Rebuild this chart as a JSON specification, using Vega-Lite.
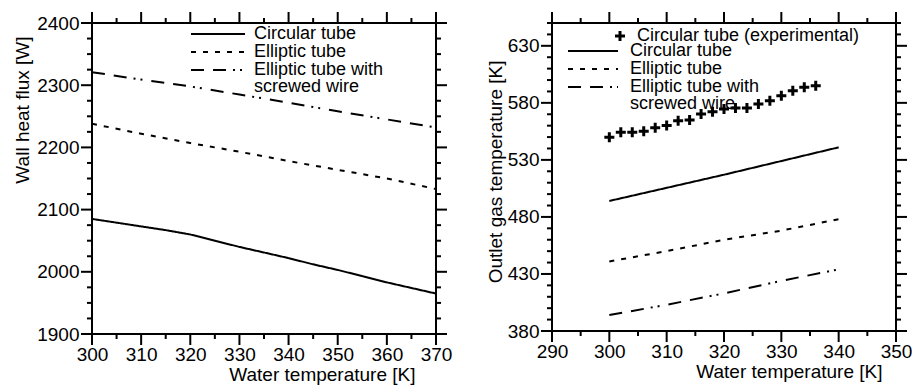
{
  "$schema": "https://vega.github.io/schema/vega-lite/v6.json",
  "padding": {"left": 12, "top": 11, "right": 0, "bottom": 0},
  "background": "white",
  "spacing": 32,
  "datasets": {
    "heat": [
      {"T": 300, "q": 2085, "series": "Circular tube"},
      {"T": 305, "q": 2079, "series": "Circular tube"},
      {"T": 310, "q": 2073, "series": "Circular tube"},
      {"T": 315, "q": 2067, "series": "Circular tube"},
      {"T": 320, "q": 2060, "series": "Circular tube"},
      {"T": 325, "q": 2050, "series": "Circular tube"},
      {"T": 330, "q": 2040, "series": "Circular tube"},
      {"T": 335, "q": 2031, "series": "Circular tube"},
      {"T": 340, "q": 2022, "series": "Circular tube"},
      {"T": 345, "q": 2012, "series": "Circular tube"},
      {"T": 350, "q": 2003, "series": "Circular tube"},
      {"T": 355, "q": 1993, "series": "Circular tube"},
      {"T": 360, "q": 1983, "series": "Circular tube"},
      {"T": 365, "q": 1974, "series": "Circular tube"},
      {"T": 370, "q": 1965, "series": "Circular tube"},
      {"T": 300, "q": 2238, "series": "Elliptic tube"},
      {"T": 310, "q": 2222, "series": "Elliptic tube"},
      {"T": 320, "q": 2207, "series": "Elliptic tube"},
      {"T": 330, "q": 2193, "series": "Elliptic tube"},
      {"T": 340, "q": 2178, "series": "Elliptic tube"},
      {"T": 350, "q": 2164, "series": "Elliptic tube"},
      {"T": 360, "q": 2150, "series": "Elliptic tube"},
      {"T": 370, "q": 2133, "series": "Elliptic tube"},
      {"T": 300, "q": 2321, "series": "Elliptic tube with screwed wire"},
      {"T": 310, "q": 2309, "series": "Elliptic tube with screwed wire"},
      {"T": 320, "q": 2298, "series": "Elliptic tube with screwed wire"},
      {"T": 330, "q": 2285, "series": "Elliptic tube with screwed wire"},
      {"T": 340, "q": 2272, "series": "Elliptic tube with screwed wire"},
      {"T": 350, "q": 2258, "series": "Elliptic tube with screwed wire"},
      {"T": 360, "q": 2245, "series": "Elliptic tube with screwed wire"},
      {"T": 370, "q": 2232, "series": "Elliptic tube with screwed wire"}
    ],
    "gas": [
      {"T": 300, "Tg": 494, "series": "Circular tube"},
      {"T": 310, "Tg": 505.5, "series": "Circular tube"},
      {"T": 320, "Tg": 517, "series": "Circular tube"},
      {"T": 330, "Tg": 529, "series": "Circular tube"},
      {"T": 340, "Tg": 541, "series": "Circular tube"},
      {"T": 300, "Tg": 441, "series": "Elliptic tube"},
      {"T": 310, "Tg": 450, "series": "Elliptic tube"},
      {"T": 320, "Tg": 460, "series": "Elliptic tube"},
      {"T": 330, "Tg": 468, "series": "Elliptic tube"},
      {"T": 340, "Tg": 478, "series": "Elliptic tube"},
      {"T": 300, "Tg": 394, "series": "Elliptic tube with screwed wire"},
      {"T": 310, "Tg": 403, "series": "Elliptic tube with screwed wire"},
      {"T": 320, "Tg": 413, "series": "Elliptic tube with screwed wire"},
      {"T": 330, "Tg": 424, "series": "Elliptic tube with screwed wire"},
      {"T": 340, "Tg": 434, "series": "Elliptic tube with screwed wire"}
    ],
    "exp": [
      {"T": 300, "Tg": 549.8, "series": "Circular tube (experimental)"},
      {"T": 302, "Tg": 554.2, "series": "Circular tube (experimental)"},
      {"T": 304, "Tg": 554.2, "series": "Circular tube (experimental)"},
      {"T": 306, "Tg": 555.1, "series": "Circular tube (experimental)"},
      {"T": 308, "Tg": 558.1, "series": "Circular tube (experimental)"},
      {"T": 310, "Tg": 560.1, "series": "Circular tube (experimental)"},
      {"T": 312, "Tg": 564.4, "series": "Circular tube (experimental)"},
      {"T": 314, "Tg": 565.0, "series": "Circular tube (experimental)"},
      {"T": 316, "Tg": 570.3, "series": "Circular tube (experimental)"},
      {"T": 318, "Tg": 572.3, "series": "Circular tube (experimental)"},
      {"T": 320, "Tg": 574.7, "series": "Circular tube (experimental)"},
      {"T": 322, "Tg": 575.5, "series": "Circular tube (experimental)"},
      {"T": 324, "Tg": 575.5, "series": "Circular tube (experimental)"},
      {"T": 326, "Tg": 579.0, "series": "Circular tube (experimental)"},
      {"T": 328, "Tg": 581.9, "series": "Circular tube (experimental)"},
      {"T": 330, "Tg": 586.3, "series": "Circular tube (experimental)"},
      {"T": 332, "Tg": 590.7, "series": "Circular tube (experimental)"},
      {"T": 334, "Tg": 593.6, "series": "Circular tube (experimental)"},
      {"T": 336, "Tg": 595.0, "series": "Circular tube (experimental)"}
    ],
    "tx1": [
      {"v": 300, "major": true}, {"v": 305, "major": false}, {"v": 310, "major": true}, {"v": 315, "major": false},
      {"v": 320, "major": true}, {"v": 325, "major": false}, {"v": 330, "major": true}, {"v": 335, "major": false},
      {"v": 340, "major": true}, {"v": 345, "major": false}, {"v": 350, "major": true}, {"v": 355, "major": false},
      {"v": 360, "major": true}, {"v": 365, "major": false}, {"v": 370, "major": true}
    ],
    "ty1": [
      {"v": 1900, "major": true}, {"v": 1925, "major": false}, {"v": 1950, "major": false}, {"v": 1975, "major": false},
      {"v": 2000, "major": true}, {"v": 2025, "major": false}, {"v": 2050, "major": false}, {"v": 2075, "major": false},
      {"v": 2100, "major": true}, {"v": 2125, "major": false}, {"v": 2150, "major": false}, {"v": 2175, "major": false},
      {"v": 2200, "major": true}, {"v": 2225, "major": false}, {"v": 2250, "major": false}, {"v": 2275, "major": false},
      {"v": 2300, "major": true}, {"v": 2325, "major": false}, {"v": 2350, "major": false}, {"v": 2375, "major": false},
      {"v": 2400, "major": true}
    ],
    "tx2": [
      {"v": 290, "major": true}, {"v": 295, "major": false}, {"v": 300, "major": true}, {"v": 305, "major": false},
      {"v": 310, "major": true}, {"v": 315, "major": false}, {"v": 320, "major": true}, {"v": 325, "major": false},
      {"v": 330, "major": true}, {"v": 335, "major": false}, {"v": 340, "major": true}, {"v": 345, "major": false},
      {"v": 350, "major": true}
    ],
    "ty2": [
      {"v": 380, "major": true}, {"v": 390, "major": false}, {"v": 400, "major": false}, {"v": 410, "major": false}, {"v": 420, "major": false},
      {"v": 430, "major": true}, {"v": 440, "major": false}, {"v": 450, "major": false}, {"v": 460, "major": false}, {"v": 470, "major": false},
      {"v": 480, "major": true}, {"v": 490, "major": false}, {"v": 500, "major": false}, {"v": 510, "major": false}, {"v": 520, "major": false},
      {"v": 530, "major": true}, {"v": 540, "major": false}, {"v": 550, "major": false}, {"v": 560, "major": false}, {"v": 570, "major": false},
      {"v": 580, "major": true}, {"v": 590, "major": false}, {"v": 600, "major": false}, {"v": 610, "major": false}, {"v": 620, "major": false},
      {"v": 630, "major": true}, {"v": 640, "major": false}, {"v": 650, "major": false}
    ]
  },
  "hconcat": [
    {
      "width": 344,
      "height": 311,
      "layer": [
        {
          "data": {"name": "heat"},
          "mark": {"type": "line", "strokeWidth": 2, "color": "black", "strokeCap": "butt"},
          "encoding": {
            "x": {
              "field": "T", "type": "quantitative",
              "scale": {"domain": [300, 370], "nice": false, "zero": false},
              "axis": {
                "orient": "bottom",
                "values": [300, 310, 320, 330, 340, 350, 360, 370],
                "format": "d",
                "labelPadding": 11,
                "title": "Water temperature [K]",
                "titleAlign": "right",
                "titleX": 323,
                "titlePadding": 1
              }
            },
            "y": {
              "field": "q", "type": "quantitative",
              "scale": {"domain": [1900, 2400], "nice": false, "zero": false},
              "axis": {
                "orient": "left",
                "values": [1900, 2000, 2100, 2200, 2300, 2400],
                "format": "d",
                "labelPadding": 13,
                "title": "Wall heat flux [W]",
                "titleAnchor": "end",
                "titleY": 13,
                "titlePadding": 4
              }
            },
            "strokeDash": {
              "field": "series", "type": "nominal",
              "scale": {
                "domain": ["Circular tube", "Elliptic tube", "Elliptic tube with screwed wire"],
                "range": [[1, 0], [5, 7], [13, 9, 13, 7, 2, 5, 2, 9]]
              },
              "legend": {
                "orient": "none",
                "legendX": 98,
                "legendY": 3,
                "title": null,
                "symbolType": "stroke",
                "symbolSize": 2916,
                "symbolStrokeWidth": 2,
                "symbolStrokeColor": "black",
                "labelFont": "Liberation Sans",
                "labelFontSize": 18,
                "labelColor": "black",
                "labelOffset": 8,
                "labelLimit": 0,
                "clipHeight": 16,
                "rowPadding": 0,
                "padding": 0,
                "labelExpr": "datum.value === 'Elliptic tube with screwed wire' ? ['Elliptic tube with', 'screwed wire'] : datum.label",
                "encode": {"labels": {"lineHeight": {"value": 16.5}}}
              }
            }
          }
        },
        {
          "data": {"name": "tx1"},
          "transform": [{"filter": "datum.major"}],
          "mark": {"type": "tick", "orient": "vertical", "size": 11, "thickness": 2, "yOffset": 5.5, "color": "black", "opacity": 1},
          "encoding": {
            "x": {"field": "v", "type": "quantitative"},
            "y": {"datum": 1900, "type": "quantitative"}
          }
        },
        {
          "data": {"name": "tx1"},
          "transform": [{"filter": "!datum.major"}],
          "mark": {"type": "tick", "orient": "vertical", "size": 5, "thickness": 2, "yOffset": 2.5, "color": "black", "opacity": 1},
          "encoding": {
            "x": {"field": "v", "type": "quantitative"},
            "y": {"datum": 1900, "type": "quantitative"}
          }
        },
        {
          "data": {"name": "tx1"},
          "transform": [{"filter": "datum.major"}],
          "mark": {"type": "tick", "orient": "vertical", "size": 11, "thickness": 2, "yOffset": -5.5, "color": "black", "opacity": 1},
          "encoding": {
            "x": {"field": "v", "type": "quantitative"},
            "y": {"datum": 2400, "type": "quantitative"}
          }
        },
        {
          "data": {"name": "tx1"},
          "transform": [{"filter": "!datum.major"}],
          "mark": {"type": "tick", "orient": "vertical", "size": 5, "thickness": 2, "yOffset": -2.5, "color": "black", "opacity": 1},
          "encoding": {
            "x": {"field": "v", "type": "quantitative"},
            "y": {"datum": 2400, "type": "quantitative"}
          }
        },
        {
          "data": {"name": "ty1"},
          "transform": [{"filter": "datum.major"}],
          "mark": {"type": "tick", "orient": "horizontal", "size": 11, "thickness": 2, "xOffset": -5.5, "color": "black", "opacity": 1},
          "encoding": {
            "y": {"field": "v", "type": "quantitative"},
            "x": {"datum": 300, "type": "quantitative"}
          }
        },
        {
          "data": {"name": "ty1"},
          "transform": [{"filter": "!datum.major"}],
          "mark": {"type": "tick", "orient": "horizontal", "size": 5, "thickness": 2, "xOffset": -2.5, "color": "black", "opacity": 1},
          "encoding": {
            "y": {"field": "v", "type": "quantitative"},
            "x": {"datum": 300, "type": "quantitative"}
          }
        },
        {
          "data": {"name": "ty1"},
          "transform": [{"filter": "datum.major"}],
          "mark": {"type": "tick", "orient": "horizontal", "size": 11, "thickness": 2, "xOffset": 5.5, "color": "black", "opacity": 1},
          "encoding": {
            "y": {"field": "v", "type": "quantitative"},
            "x": {"datum": 370, "type": "quantitative"}
          }
        },
        {
          "data": {"name": "ty1"},
          "transform": [{"filter": "!datum.major"}],
          "mark": {"type": "tick", "orient": "horizontal", "size": 5, "thickness": 2, "xOffset": 2.5, "color": "black", "opacity": 1},
          "encoding": {
            "y": {"field": "v", "type": "quantitative"},
            "x": {"datum": 370, "type": "quantitative"}
          }
        }
      ]
    },
    {
      "width": 344,
      "height": 308,
      "layer": [
        {
          "data": {"name": "gas"},
          "mark": {"type": "line", "strokeWidth": 2, "color": "black", "strokeCap": "butt"},
          "encoding": {
            "x": {
              "field": "T", "type": "quantitative",
              "scale": {"domain": [290, 350], "nice": false, "zero": false},
              "axis": {
                "orient": "bottom",
                "values": [290, 300, 310, 320, 330, 340, 350],
                "format": "d",
                "labelPadding": 11,
                "title": "Water temperature [K]",
                "titleAlign": "right",
                "titleX": 330,
                "titlePadding": 1
              }
            },
            "y": {
              "field": "Tg", "type": "quantitative",
              "scale": {"domain": [380, 650], "nice": false, "zero": false},
              "axis": {
                "orient": "left",
                "values": [380, 430, 480, 530, 580, 630],
                "format": "d",
                "labelPadding": 13,
                "title": "Outlet gas temperature [K]",
                "titleAnchor": "end",
                "titleY": 37,
                "titlePadding": 2
              }
            },
            "strokeDash": {
              "field": "series", "type": "nominal",
              "scale": {
                "domain": ["Circular tube", "Elliptic tube", "Elliptic tube with screwed wire"],
                "range": [[1, 0], [5, 7], [13, 9, 13, 7, 2, 5, 2, 9]]
              },
              "legend": {
                "orient": "none",
                "legendX": 15,
                "legendY": 20,
                "title": null,
                "symbolType": "stroke",
                "symbolSize": 2500,
                "symbolStrokeWidth": 2,
                "symbolStrokeColor": "black",
                "labelFont": "Liberation Sans",
                "labelFontSize": 18,
                "labelColor": "black",
                "labelOffset": 11,
                "labelLimit": 0,
                "clipHeight": 16,
                "rowPadding": 0,
                "padding": 0,
                "labelExpr": "datum.value === 'Elliptic tube with screwed wire' ? ['Elliptic tube with', 'screwed wire'] : datum.label",
                "encode": {"labels": {"lineHeight": {"value": 16}}}
              }
            }
          }
        },
        {
          "data": {"name": "exp"},
          "mark": {"type": "point", "size": 100, "filled": true, "color": "black", "opacity": 1},
          "encoding": {
            "x": {"field": "T", "type": "quantitative"},
            "y": {"field": "Tg", "type": "quantitative"},
            "shape": {
              "field": "series", "type": "nominal",
              "scale": {
                "domain": ["Circular tube (experimental)"],
                "range": ["M-1,-0.3H-0.3V-1H0.3V-0.3H1V0.3H0.3V1H-0.3V0.3H-1Z"]
              },
              "legend": {
                "orient": "none",
                "legendX": 59,
                "legendY": 5,
                "title": null,
                "symbolSize": 100,
                "symbolFillColor": "black",
                "symbolStrokeWidth": 0,
                "labelFont": "Liberation Sans",
                "labelFontSize": 18,
                "labelColor": "black",
                "labelOffset": 8,
                "labelLimit": 0,
                "clipHeight": 16,
                "padding": 0
              }
            }
          }
        },
        {
          "data": {"name": "tx2"},
          "transform": [{"filter": "datum.major"}],
          "mark": {"type": "tick", "orient": "vertical", "size": 11, "thickness": 2, "yOffset": 5.5, "color": "black", "opacity": 1},
          "encoding": {
            "x": {"field": "v", "type": "quantitative"},
            "y": {"datum": 380, "type": "quantitative"}
          }
        },
        {
          "data": {"name": "tx2"},
          "transform": [{"filter": "!datum.major"}],
          "mark": {"type": "tick", "orient": "vertical", "size": 5, "thickness": 2, "yOffset": 2.5, "color": "black", "opacity": 1},
          "encoding": {
            "x": {"field": "v", "type": "quantitative"},
            "y": {"datum": 380, "type": "quantitative"}
          }
        },
        {
          "data": {"name": "tx2"},
          "transform": [{"filter": "datum.major"}],
          "mark": {"type": "tick", "orient": "vertical", "size": 11, "thickness": 2, "yOffset": -5.5, "color": "black", "opacity": 1},
          "encoding": {
            "x": {"field": "v", "type": "quantitative"},
            "y": {"datum": 650, "type": "quantitative"}
          }
        },
        {
          "data": {"name": "tx2"},
          "transform": [{"filter": "!datum.major"}],
          "mark": {"type": "tick", "orient": "vertical", "size": 5, "thickness": 2, "yOffset": -2.5, "color": "black", "opacity": 1},
          "encoding": {
            "x": {"field": "v", "type": "quantitative"},
            "y": {"datum": 650, "type": "quantitative"}
          }
        },
        {
          "data": {"name": "ty2"},
          "transform": [{"filter": "datum.major"}],
          "mark": {"type": "tick", "orient": "horizontal", "size": 11, "thickness": 2, "xOffset": -5.5, "color": "black", "opacity": 1},
          "encoding": {
            "y": {"field": "v", "type": "quantitative"},
            "x": {"datum": 290, "type": "quantitative"}
          }
        },
        {
          "data": {"name": "ty2"},
          "transform": [{"filter": "!datum.major"}],
          "mark": {"type": "tick", "orient": "horizontal", "size": 5, "thickness": 2, "xOffset": -2.5, "color": "black", "opacity": 1},
          "encoding": {
            "y": {"field": "v", "type": "quantitative"},
            "x": {"datum": 290, "type": "quantitative"}
          }
        },
        {
          "data": {"name": "ty2"},
          "transform": [{"filter": "datum.major"}],
          "mark": {"type": "tick", "orient": "horizontal", "size": 11, "thickness": 2, "xOffset": 5.5, "color": "black", "opacity": 1},
          "encoding": {
            "y": {"field": "v", "type": "quantitative"},
            "x": {"datum": 350, "type": "quantitative"}
          }
        },
        {
          "data": {"name": "ty2"},
          "transform": [{"filter": "!datum.major"}],
          "mark": {"type": "tick", "orient": "horizontal", "size": 5, "thickness": 2, "xOffset": 2.5, "color": "black", "opacity": 1},
          "encoding": {
            "y": {"field": "v", "type": "quantitative"},
            "x": {"datum": 350, "type": "quantitative"}
          }
        }
      ]
    }
  ],
  "resolve": {
    "scale": {"strokeDash": "independent", "shape": "independent"},
    "legend": {"strokeDash": "independent", "shape": "independent"}
  },
  "config": {
    "view": {"stroke": "black", "strokeWidth": 2},
    "style": {"guide-label": {"lineHeight": 16.5}},
    "axis": {
      "grid": false,
      "domain": false,
      "ticks": false,
      "labelFont": "Liberation Sans",
      "labelFontSize": 19,
      "labelColor": "black",
      "labelOverlap": false,
      "labelFlush": false,
      "titleFont": "Liberation Sans",
      "titleFontSize": 19,
      "titleFontWeight": "normal",
      "titleColor": "black"
    }
  }
}
